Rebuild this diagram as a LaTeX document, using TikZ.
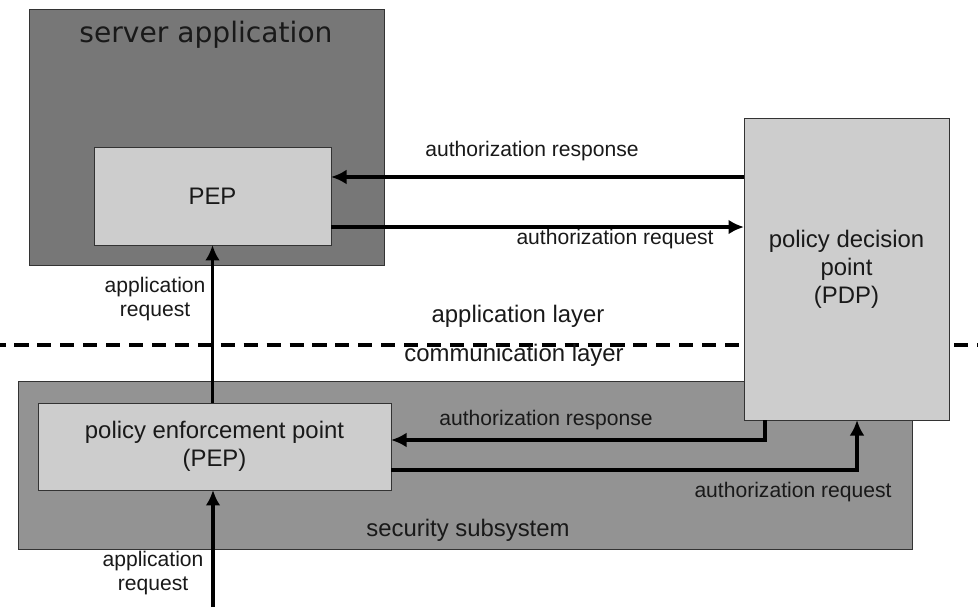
\documentclass[tikz,border=0pt]{standalone}
\usepackage{fontspec}
\setmainfont{Liberation Sans}
\newfontfamily\titlefont{DejaVu Sans}
\usetikzlibrary{arrows.meta}
\definecolor{appgray}{HTML}{777777}
\definecolor{secgray}{HTML}{939393}
\definecolor{boxgray}{HTML}{CDCDCD}

\begin{document}
\begin{tikzpicture}[x=0.025cm,y=-0.025cm,
	box/.style={draw=black!80,line width=0.6pt,inner sep=0pt,outer sep=0pt},
	lbl/.style={font=\fontsize{15}{17}\selectfont,align=center,text=black!90},
	txt/.style={font=\fontsize{17}{19.8}\selectfont,align=center,text=black!90},
	flow/.style={line width=2.8pt,-{Latex[length=11pt,width=10.5pt]}}]
\useasboundingbox (0,0) rectangle (978,607);
\node[box,fill=appgray,minimum width=8.875cm,minimum height=6.4cm] (srv) at (206.5,137) {};
\node[font=\titlefont\fontsize{20}{24}\selectfont,text=black!90] (srvtitle) at (206,35) {server application};
\node[box,fill=secgray,minimum width=22.325cm,minimum height=4.2cm] (sec) at (465.5,465) {};
\coordinate (lyrL) at (0,345); \coordinate (lyrR) at (978,345);
\draw[line width=2.8pt,dash pattern=on 10pt off 6.3pt,dash phase=6pt] (lyrL) -- (lyrR);
\node[box,fill=boxgray,minimum width=5.125cm,minimum height=7.55cm,txt] (pdp) at (846.5,269) {policy decision\\point\\(PDP)};
\node[box,fill=boxgray,minimum width=5.925cm,minimum height=2.45cm,txt] (pepA) at (212.5,196) {PEP};
\node[box,fill=boxgray,minimum width=8.825cm,minimum height=2.175cm,txt] (pepB) at (214.5,446.5) {policy enforcement point\\(PEP)};
\node[lbl] (rspAlbl) at (532,151) {authorization response};
\node[lbl] (reqAlbl) at (615,239) {authorization request};
\node[lbl] (appAlbl) at (155,299) {application\\request};
\node[txt] (applyr) at (518,316) {application layer};
\node[txt] (comlyr) at (514,355) {communication layer};
\node[lbl] (rspBlbl) at (546,420) {authorization response};
\node[lbl] (reqBlbl) at (793,492) {authorization request};
\node[txt] (seclbl) at (468,530) {security subsystem};
\node[lbl] (appBlbl) at (153,573) {application\\request};
\coordinate (rspA) at ([yshift=-1.475cm]pdp.north west);
\coordinate (reqA) at ([yshift=-2cm]pepA.north east);
\coordinate (rspB) at ([xshift=0.525cm]pdp.south west);
\coordinate (reqB) at ([yshift=-1.675cm]pepB.north east);
\coordinate (entry) at (213,607);
\draw[flow] (rspA) -- (rspA -| pepA.east);
\draw[flow] (reqA) -- (reqA -| pdp.west);
\draw[flow] (pepB.north -| pepA.south) -- (pepA.south);
\draw[flow] (rspB) |- ([yshift=-0.925cm]pepB.north east);
\draw[flow] (reqB) -| ([xshift=2.825cm]pdp.south west);
\draw[flow] (entry) -- (entry |- pepB.south);
\end{tikzpicture}
\end{document}
